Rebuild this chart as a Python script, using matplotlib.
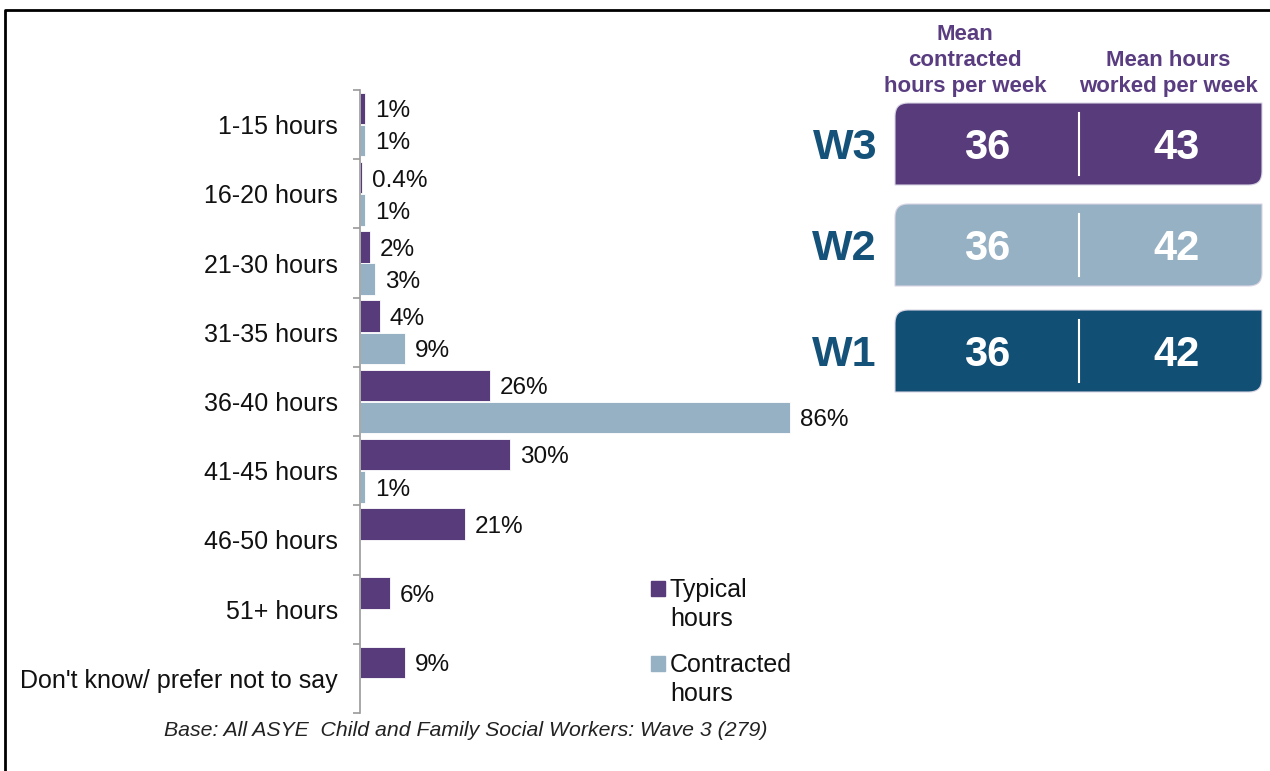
import numpy as np
import matplotlib.pyplot as plt
from matplotlib.path import Path
from matplotlib.patches import PathPatch, Rectangle
from matplotlib.lines import Line2D

plt.rcParams['font.family'] = ['Liberation Sans', 'DejaVu Sans']

PURPLE = '#573B7B'
LIGHT = '#97B1C4'
DARK = '#124F75'

categories = ['1-15 hours', '16-20 hours', '21-30 hours', '31-35 hours',
              '36-40 hours', '41-45 hours', '46-50 hours', '51+ hours',
              "Don't know/ prefer not to say"]
typical = [1, 0.4, 2, 4, 26, 30, 21, 6, 9]
contracted = [1, 1, 3, 9, 86, 1, 0, 0, 0]

waves = ['W3', 'W2', 'W1']
mean_contracted = [36, 36, 36]
mean_worked = [43, 42, 42]
wave_colors = [PURPLE, LIGHT, DARK]

W, H = 1270, 771
fig = plt.figure(figsize=(W / 100, H / 100), dpi=100)

# pixel-space overlay for the frame and the summary boxes
ov = fig.add_axes([0, 0, 1, 1], zorder=0)
ov.set_xlim(0, W)
ov.set_ylim(H, 0)
ov.axis('off')

ov.add_line(Line2D([5, 5, W], [H, 10, 10], color='black', lw=2))

ax = fig.add_axes([360 / W, 58 / H, 500 / W, 623 / H], zorder=1)
ax.patch.set_alpha(0)

y = np.arange(len(categories))
bh = 0.455
b1 = ax.barh(y - bh / 2 - 0.005, typical, height=bh, color=PURPLE,
             edgecolor='white', lw=0.6)
b2 = ax.barh(y + bh / 2 + 0.005, contracted, height=bh, color=LIGHT,
             edgecolor='white', lw=0.6)

for bars, vals in ((b1, typical), (b2, contracted)):
    for rect, v in zip(bars, vals):
        if v <= 0:
            continue
        ax.annotate(f'{v:g}%', (v, rect.get_y() + rect.get_height() / 2),
                    xytext=(7, -2), textcoords='offset points',
                    va='center', ha='left', fontsize=17.5, color='#111111')

ax.set_xlim(0, 100)
ax.set_ylim(len(categories) - 0.5, -0.5)
ax.set_yticks(y)
ax.set_yticklabels(categories, fontsize=18, color='#111111')
ax.set_yticks(np.arange(-0.5, len(categories)), minor=True)
ax.tick_params(axis='y', which='major', length=0, pad=16)
ax.tick_params(axis='y', which='minor', length=5, width=1.2, color='#9A9A9A')
ax.set_xticks([])
for s in ('top', 'right', 'bottom'):
    ax.spines[s].set_visible(False)
ax.spines['left'].set_color('#9A9A9A')
ax.spines['left'].set_linewidth(1.2)

# legend
for (yy, label, bars) in ((581, 'Typical\nhours', b1), (656, 'Contracted\nhours', b2)):
    ov.add_patch(Rectangle((651, yy), 14, 15, color=bars.patches[0].get_facecolor()))
    ov.text(670, yy - 3, label, ha='left', va='top', fontsize=18,
            color='#111111', linespacing=1.28)

ov.text(466, 730, 'Base: All ASYE  Child and Family Social Workers: Wave 3 (279)',
        ha='center', va='center', fontsize=15.3, style='italic', color='#222222')


def diag_round_box(x0, y0, w, h, r):
    verts = [(x0 + r, y0), (x0 + w, y0), (x0 + w, y0 + h - r),
             (x0 + w, y0 + h), (x0 + w - r, y0 + h), (x0, y0 + h),
             (x0, y0 + r), (x0, y0), (x0 + r, y0), (x0 + r, y0)]
    codes = [Path.MOVETO, Path.LINETO, Path.LINETO,
             Path.CURVE3, Path.CURVE3, Path.LINETO,
             Path.LINETO, Path.CURVE3, Path.CURVE3, Path.CLOSEPOLY]
    return Path(verts, codes)


HEAD = '#5A3D80'
ov.text(965, 97, 'Mean\ncontracted\nhours per week', ha='center', va='bottom',
        fontsize=16, fontweight='bold', color=HEAD, linespacing=1.3)
ov.text(1168, 97, 'Mean hours\nworked per week', ha='center', va='bottom',
        fontsize=16, fontweight='bold', color=HEAD, linespacing=1.3)

tops = [103, 204, 310]
bx0, bx1, bhgt = 895, 1262, 82
for top, wave, mc, mw, col in zip(tops, waves, mean_contracted, mean_worked, wave_colors):
    ov.add_patch(PathPatch(diag_round_box(bx0, top, bx1 - bx0, bhgt, 13),
                           facecolor=col, edgecolor='#D8D4E4', lw=0.8))
    ov.plot([1079, 1079], [top + 10, top + bhgt - 10], color='white', lw=1.5)
    cy = top + bhgt / 2 + 4
    ov.text(877, cy, wave, ha='right', va='center', fontsize=31,
            fontweight='bold', color='#15527A')
    ov.text(987, cy, str(mc), ha='center', va='center', fontsize=30,
            fontweight='bold', color='white')
    ov.text(1176, cy, str(mw), ha='center', va='center', fontsize=30,
            fontweight='bold', color='white')

fig.savefig('out.png', dpi=100)
